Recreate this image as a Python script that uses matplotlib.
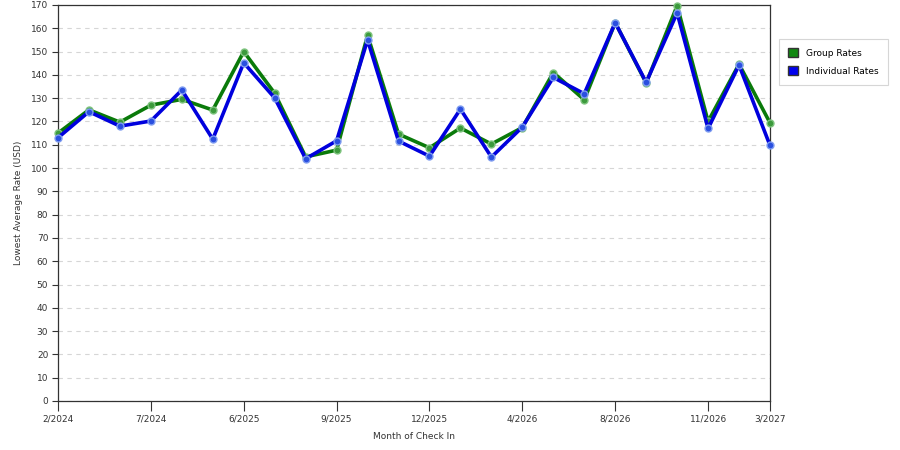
import matplotlib
matplotlib.use("Agg")
import matplotlib.pyplot as plt
from matplotlib.patches import Patch

months = ["2/2024", "3/2024", "4/2024", "7/2024", "8/2024", "9/2024",
          "6/2025", "7/2025", "8/2025", "9/2025", "10/2025", "11/2025",
          "12/2025", "1/2026", "2/2026", "4/2026", "5/2026", "6/2026",
          "8/2026", "9/2026", "10/2026", "11/2026", "12/2026", "3/2027"]
group_rates = [115.0, 125.0, 119.7, 127.0, 129.5, 124.9, 150.0, 132.1,
               104.8, 107.7, 157.0, 114.6, 108.7, 117.2, 110.3, 117.4,
               141.0, 129.3, 162.4, 136.5, 169.7, 120.0, 144.6, 119.4]
individual_rates = [113.0, 124.2, 118.0, 120.2, 133.5, 112.4, 145.2, 130.1,
                    104.0, 111.7, 155.0, 111.6, 105.1, 125.3, 104.7, 117.6,
                    138.9, 131.9, 162.4, 136.8, 166.6, 117.0, 144.2, 109.7]
tick_labels = ["2/2024", "7/2024", "6/2025", "9/2025", "12/2025",
               "4/2026", "8/2026", "11/2026", "3/2027"]
y_ticks = list(range(0, 171, 10))

plt.rcParams['font.family'] = ['DejaVu Sans']

fig = plt.figure(figsize=(9, 4.5), dpi=100)
ax = fig.add_axes([58/900, 1-401/450, (770-58)/900, (401-5)/450])

x = list(range(len(months)))
green = "#0a7a0a"
blue = "#0000dd"

ax.plot(x, group_rates, color=green, lw=2.6, zorder=3, clip_on=False,
        marker="o", ms=5, mfc="#3c9a3c", mec="#7fc47f", mew=1.0)
ax.plot(x, individual_rates, color=blue, lw=2.6, zorder=4, clip_on=False,
        marker="o", ms=5, mfc="#2a4fe0", mec="#7f9cf0", mew=1.0)

ax.set_xlim(0, len(months) - 1)
ax.set_ylim(0, 170)
ax.set_yticks(y_ticks)
ax.set_yticklabels([str(v) for v in y_ticks], fontsize=6.5, color="#333333")
tick_pos = [months.index(t) for t in tick_labels]
ax.set_xticks(tick_pos)
ax.set_xticklabels(tick_labels, fontsize=6.5, color="#333333")
ax.tick_params(axis="both", direction="out", length=4, width=0.8, color="#333333", pad=3)
ax.tick_params(axis="x", length=7)

ax.grid(axis="y", color="#d6d6d6", linestyle=(0, (4, 4)), lw=0.8, zorder=0)
for s in ax.spines.values():
    s.set_color("#333333")
    s.set_linewidth(0.9)

ax.set_ylabel("Lowest Average Rate (USD)", fontsize=6.5, color="#333333", labelpad=6)
ax.set_xlabel("Month of Check In", fontsize=6.5, color="#333333", labelpad=6)

handles = [Patch(facecolor="#118811", edgecolor="#333333", label="Group Rates"),
           Patch(facecolor="#0000ee", edgecolor="#333333", label="Individual Rates")]
leg = fig.legend(handles=handles, loc="upper left",
                 bbox_to_anchor=(779/900, 1-39/450), fontsize=6.5,
                 frameon=True, fancybox=False, edgecolor="#cccccc",
                 handlelength=1.1, handleheight=1.2, borderpad=1.0,
                 labelspacing=0.9, handletextpad=0.9, borderaxespad=0)
leg.get_frame().set_linewidth(0.8)

fig.savefig("out.png", dpi=100)
